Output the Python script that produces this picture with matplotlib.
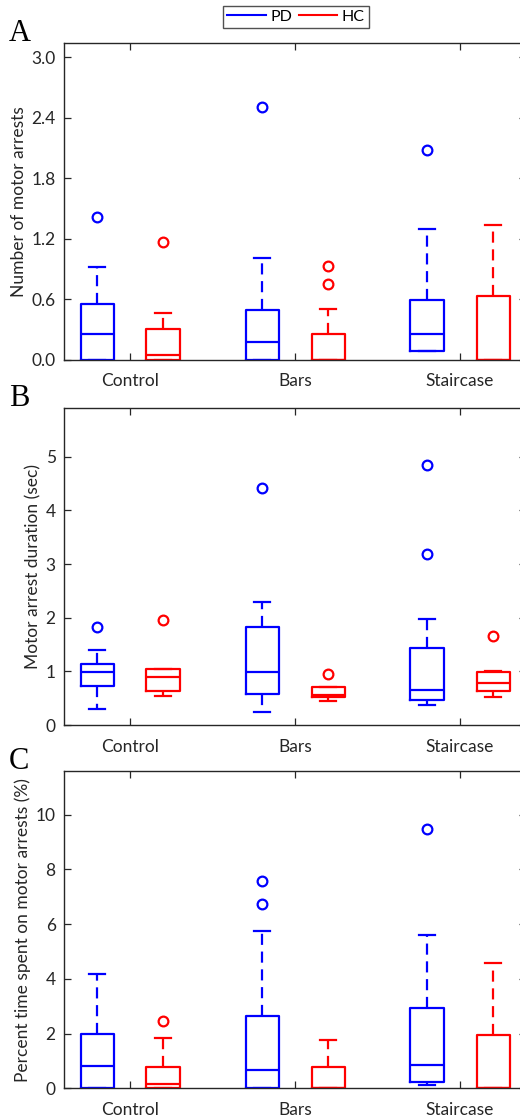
import matplotlib
matplotlib.use("Agg")
import matplotlib.pyplot as plt
from matplotlib.lines import Line2D

plt.rcParams['font.family'] = ['Lato', 'DejaVu Sans']

conditions = ["Control", "Bars", "Staircase"]
groups = ["PD", "HC"]
colors = {"PD": "#0000ff", "HC": "#ff0000"}

# Panel A: Number of motor arrests  (order: Control, Bars, Staircase)
a_pd_whislo = [0.0, 0.0, 0.086]
a_pd_q1 = [0.0, 0.0, 0.086]
a_pd_med = [0.255, 0.172, 0.255]
a_pd_q3 = [0.547, 0.487, 0.59]
a_pd_whishi = [0.917, 1.004, 1.30]
a_pd_fliers = [[1.417], [2.508], [2.085]]
a_hc_whislo = [0.0, 0.0, 0.0]
a_hc_q1 = [0.0, 0.0, 0.0]
a_hc_med = [0.043, 0.0, 0.0]
a_hc_q3 = [0.298, 0.255, 0.63]
a_hc_whishi = [0.46, 0.504, 1.334]
a_hc_fliers = [[1.166], [0.927, 0.752], []]

# Panel B: Motor arrest duration (sec)
b_pd_whislo = [0.30, 0.243, 0.373]
b_pd_q1 = [0.73, 0.58, 0.47]
b_pd_med = [0.99, 0.98, 0.647]
b_pd_q3 = [1.144, 1.834, 1.437]
b_pd_whishi = [1.40, 2.29, 1.98]
b_pd_fliers = [[1.83], [4.42], [3.18, 4.85]]
b_hc_whislo = [0.547, 0.44, 0.52]
b_hc_q1 = [0.64, 0.53, 0.63]
b_hc_med = [0.90, 0.55, 0.79]
b_hc_q3 = [1.05, 0.70, 0.99]
b_hc_whishi = [1.05, 0.70, 1.01]
b_hc_fliers = [[1.95], [0.95], [1.655]]

# Panel C: Percent time spent on motor arrests (%)
c_pd_whislo = [0.0, 0.0, 0.11]
c_pd_q1 = [0.0, 0.0, 0.23]
c_pd_med = [0.82, 0.68, 0.865]
c_pd_q3 = [2.0, 2.66, 2.95]
c_pd_whishi = [4.19, 5.75, 5.6]
c_pd_fliers = [[], [7.57, 6.72], [9.49]]
c_hc_whislo = [0.0, 0.0, 0.0]
c_hc_q1 = [0.0, 0.0, 0.0]
c_hc_med = [0.15, 0.0, 0.0]
c_hc_q3 = [0.78, 0.78, 1.96]
c_hc_whishi = [1.84, 1.77, 4.57]
c_hc_fliers = [[2.47], [], []]

panels = [
    dict(letter="A", ylabel="Number of motor arrests", ylim=(0, 3.14),
         yticks=[0, 0.6, 1.2, 1.8, 2.4, 3.0], fmt="{:.1f}",
         PD=(a_pd_whislo, a_pd_q1, a_pd_med, a_pd_q3, a_pd_whishi, a_pd_fliers),
         HC=(a_hc_whislo, a_hc_q1, a_hc_med, a_hc_q3, a_hc_whishi, a_hc_fliers)),
    dict(letter="B", ylabel="Motor arrest duration (sec)", ylim=(0, 5.91),
         yticks=[0, 1, 2, 3, 4, 5], fmt="{:d}",
         PD=(b_pd_whislo, b_pd_q1, b_pd_med, b_pd_q3, b_pd_whishi, b_pd_fliers),
         HC=(b_hc_whislo, b_hc_q1, b_hc_med, b_hc_q3, b_hc_whishi, b_hc_fliers)),
    dict(letter="C", ylabel="Percent time spent on motor arrests (%)", ylim=(0, 11.6),
         yticks=[0, 2, 4, 6, 8, 10], fmt="{:d}",
         PD=(c_pd_whislo, c_pd_q1, c_pd_med, c_pd_q3, c_pd_whishi, c_pd_fliers),
         HC=(c_hc_whislo, c_hc_q1, c_hc_med, c_hc_q3, c_hc_whishi, c_hc_fliers)),
]

W, H = 520, 1117
fig = plt.figure(figsize=(W / 100, H / 100), dpi=100)

# axes boxes in pixels: (left, top, bottom)
ax_px = [(64, 43.3, 359.5), (64, 408, 725), (64, 771, 1088.3)]
ax_w = 462
offsets = {"PD": -0.2, "HC": 0.2}
spine_col = "#262626"
tick_fs = 12.5

for p, (l, t, b) in zip(panels, ax_px):
    ax = fig.add_axes([l / W, 1 - b / H, ax_w / W, (b - t) / H])
    for g in groups:
        wl, q1, med, q3, wh, fl = p[g]
        stats = []
        for i in range(3):
            stats.append(dict(whislo=wl[i], q1=q1[i], med=med[i], q3=q3[i],
                              whishi=wh[i], fliers=fl[i]))
        pos = [i + 1 + offsets[g] for i in range(3)]
        c = colors[g]
        ax.bxp(stats, positions=pos, widths=0.2, capwidths=0.1, manage_ticks=False,
               boxprops=dict(color=c, linewidth=1.6),
               medianprops=dict(color=c, linewidth=1.6),
               whiskerprops=dict(color=c, linewidth=1.6, linestyle=(0, (5, 3))),
               capprops=dict(color=c, linewidth=1.6),
               flierprops=dict(marker='o', markerfacecolor='none', markeredgecolor=c,
                               markersize=7, markeredgewidth=1.6, linestyle='none'))
    ax.set_xlim(0.6, 3.4)
    ax.set_ylim(*p["ylim"])
    ax.set_xticks([1, 2, 3])
    ax.set_xticklabels(conditions, fontsize=tick_fs, color=spine_col)
    ax.set_yticks(p["yticks"])
    ax.set_yticklabels([p["fmt"].format(v) for v in p["yticks"]], fontsize=tick_fs,
                       color=spine_col)
    ax.tick_params(direction='in', length=5, width=0.9, color=spine_col,
                   top=True, right=True)
    ax.tick_params(axis='x', pad=10)
    ax.tick_params(axis='y', pad=6)
    for s in ax.spines.values():
        s.set_color(spine_col)
        s.set_linewidth(1.0)
    ax.set_ylabel(p["ylabel"], fontsize=tick_fs, color=spine_col, labelpad=3)
    fig.text(9 / W, 1 - (t - 2) / H, p["letter"], fontsize=22,
             family=['Liberation Serif'], ha='left', va='baseline')

handles = [Line2D([], [], color=colors[g], linewidth=1.5) for g in groups]
fig.legend(handles, groups, loc='center', bbox_to_anchor=(296 / W, 1 - 17 / H),
           ncol=2, fontsize=11.5, frameon=True, fancybox=False, edgecolor=spine_col,
           handlelength=2.4, handletextpad=0.3, columnspacing=0.4,
           borderpad=0.25, borderaxespad=0)

fig.savefig("out.png", dpi=100)
